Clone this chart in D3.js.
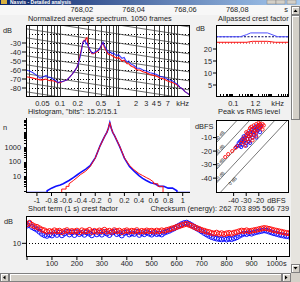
<!DOCTYPE html>
<html>
<meta charset='utf-8'>
<head>
<title>Detailed analysis</title>
<script src='https://d3js.org/d3.v7.min.js'></script>
<style>
body { margin: 0; overflow: hidden; background: #f1f1f1; }
text { font-family: 'Liberation Sans', Arial, sans-serif; font-size: 7.4px; fill: #1e1e1e; }
</style>
</head>
<body>
<div id='chart'></div>
<script>
// ---- data ----
var timeTicks = [768.02, 768.04, 768.06, 768.08];

var specFreq = [0.0262, 0.03, 0.0345, 0.04, 0.0455, 0.05, 0.0577, 0.062, 0.0675, 0.0759, 0.085, 0.0924, 0.1, 0.108, 0.12, 0.132, 0.146, 0.16, 0.178, 0.195,
  0.208, 0.22, 0.235, 0.247, 0.257, 0.267, 0.278, 0.289, 0.3, 0.313, 0.33, 0.352, 0.375, 0.397, 0.42, 0.446, 0.475, 0.502, 0.523, 0.543,
  0.575, 0.612, 0.66, 0.7, 0.74, 0.77, 0.82, 0.88, 0.94, 1.0, 1.07, 1.15, 1.25, 1.32, 1.4, 1.5, 1.6, 1.7, 1.85, 2.07,
  2.3, 2.62, 3.0, 3.46, 4.0, 4.5, 5.12, 6.0, 6.8, 7.5, 8.3, 9.2, 10.2, 11.2, 12.4, 13.7, 15.2, 16.7];
var specBlue = [-60, -61, -63, -66, -69, -68, -66, -68, -68, -70, -72, -74, -73, -73, -72, -71, -68, -65, -61, -57,
  -52, -46, -37, -29, -28, -27, -31, -30, -33, -35, -38, -41, -41, -40, -39, -38, -36, -33, -31, -29,
  -33, -36, -40, -41, -40, -42, -41, -43, -44, -43, -45, -47, -46, -49, -51, -50, -53, -54, -55, -58,
  -58, -60, -61, -63, -64, -65, -67, -68, -70, -71, -72, -74, -76, -79, -81, -84, -86, -88];
var specRed = [-67.5, -68, -69, -70, -71, -71, -70, -71, -72, -72, -73, -74, -74, -73, -72, -71, -68, -65, -61, -57,
  -51, -44, -35, -29, -27, -28, -25, -24, -32, -36, -39, -42, -42, -41, -40, -39, -37, -34, -31, -30,
  -35, -38, -42, -43, -43, -44, -45, -46, -47, -46, -48, -50, -49, -51, -53, -53, -55, -56, -57, -60,
  -60, -62, -63, -65, -66, -67, -69, -70, -72, -73, -74, -75, -77, -79, -81, -84, -86, -88];
var specTicks = [0.05, 0.1, 0.2, 0.5, 1, 2, 3, 4, 5, 7];
var specDbTicks = [-30, -40, -50, -60, -70, -80];

var crestFreqBlue = [0.0127, 0.23, 0.5, 0.8, 6, 20, 78];
var crestBlue = [25.1, 25.1, 26, 26.7, 26.7, 25.1, 25.1];
var crestFreqRed = [0.0127, 0.5, 1, 6, 15, 78];
var crestRed = [22.8, 22.8, 23.2, 23.2, 22.8, 22.8];
var crestTotalBlue = 25.1, crestTotalRed = 22.5;
var crestTicks = [5, 10, 15, 20];
var crestFreqTicks = [0.1, 1, 2];

var histXBlue = [-1.15, -0.86, -0.86, -0.8, -0.74, -0.68, -0.64, -0.56, -0.5, -0.45, -0.4, -0.33, -0.27, -0.2, -0.17, -0.134, -0.1, -0.066, -0.04, -0.02,
  0, 0.02, 0.04, 0.066, 0.1, 0.134, 0.17, 0.2, 0.27, 0.33, 0.4, 0.45, 0.5, 0.56, 0.62, 0.68, 0.74, 0.8, 0.86, 0.92, 0.92, 1.1];
var histBlue = [0, 0, 1, 1.5, 2, 2.5, 3, 5, 8, 12, 18, 30, 52, 180, 420, 1200, 2700, 6000, 10000, 19000,
  46000, 19000, 10000, 5800, 2500, 1100, 400, 170, 45, 23, 11, 7, 5, 3.5, 3, 2, 2, 1.5, 1.5, 1, 0, 0];
var histXRed = [-1.15, -0.66, -0.66, -0.6, -0.6, -0.56, -0.56, -0.5, -0.45, -0.4, -0.33, -0.27, -0.2, -0.17, -0.134, -0.1, -0.066, -0.04, -0.02,
  0, 0.02, 0.04, 0.066, 0.1, 0.134, 0.17, 0.2, 0.27, 0.33, 0.4, 0.45, 0.5, 0.55, 0.6, 0.6, 0.66, 0.66, 0.73, 0.73, 1.1];
var histRed = [0, 0, 1.3, 1.3, 2, 2, 3, 5, 8, 13, 22, 45, 170, 420, 1150, 2600, 5900, 10000, 19000,
  47000, 19000, 10000, 5900, 2600, 1150, 420, 180, 55, 28, 15, 11, 8, 6, 4, 3, 3, 2, 2, 0, 0];
var histTicks = [-1, -0.8, -0.6, -0.4, -0.2, 0, 0.2, 0.4, 0.6, 0.8, 1];
var histCountTicks = [10, 100, 1000];

var rmsBlue = [-38, -37, -36, -35, -35, -34, -33, -33, -32, -32, -31, -31, -30, -30, -29, -29, -28, -28, -27, -27,
  -26, -26, -25, -25, -24, -24, -23, -23, -22, -22, -21, -21, -20, -19, -18, -34, -30, -27, -22, -19];
var peakBlue = [-17, -16, -14, -16, -13, -12, -15, -11, -13, -9, -12, -10, -14, -8, -11, -7, -13, -9, -6, -11,
  -8, -4, -10, -6, -3, -8, -5, -2, -7, -4, -1, -5, -3, -2, -1, -17, -16, -14, -10, -6];
var rmsRed = [-34, -33, -32, -31, -30, -30, -29, -29, -28, -28, -27, -27, -26, -26, -25, -25, -24, -24, -23, -23,
  -22, -22, -21, -21, -20, -20, -19, -19, -18, -17, -17, -16, -31, -28, -25, -22, -46.7, -44.3, -41.1, -38.7, -37];
var peakRed = [-14, -12, -10, -13, -9, -6, -11, -7, -5, -9, -3, -8, -6, -2, -10, -4, -7, -1, -5, -3,
  0, -6, -2, -4, -1, 1, -3, 0, -2, 0, -4, -1, -16, -13, -12, -9, -24.4, -22.2, -20, -17.7, -16.3];
var levelTicksY = [-10, -20, -30, -40];
var levelTicksX = [-40, -30, -20];
var crestLines = [40, 30, 20, 10, 0];

var stTime = d3.range(0, 1051, 10);
var stRed = [24, 25, 23.5, 22.5, 22, 21, 20, 19.5, 18.5, 19, 18.5, 19.5, 18.8, 19.2, 18.2, 19, 19.6, 18.4, 19, 18.6,
  19.3, 18.1, 19.5, 18.7, 18.9, 19.8, 18.3, 19.1, 18.5, 19.4, 18.8, 19.9, 18.6, 19.2, 18.4, 19.6, 18.9, 19.3, 18.2, 19,
  19.5, 18.6, 19.2, 18.8, 19.6, 18.4, 19.1, 18.7, 19.4, 18.9, 19.2, 18.6, 19.3, 18.8, 19.5, 19.1, 19.8, 20.2, 20.8, 21.3,
  22, 22.6, 23.2, 23.8, 24.2, 23.5, 22.8, 22, 21.2, 20.5, 19.8, 19.2, 18.6, 18.2, 17.6, 17.2, 17.8, 17, 17.4, 16.8,
  17.3, 17.6, 17.1, 17.8, 18.2, 18.8, 19.3, 19, 19.5, 18.9, 19.2, 19.6, 19.9, 20.4, 20.8, 21.2, 21, 20.6, 20.1, 19.6,
  19.2, 18.8, 18.4, 18, 17.6, 17.4];
var stBlue = [23, 24.5, 22, 21, 20, 18.5, 17, 16, 15.5, 16.5, 15.8, 17.5, 16.2, 17.8, 15.9, 17.2, 18.4, 16.5, 17.9, 16.1,
  18.2, 16.8, 17.6, 16.3, 18, 17.1, 15.9, 18.5, 16.6, 17.7, 16.4, 18.3, 17.2, 16.1, 17.9, 18.6, 16.8, 17.4, 15.8, 17.6,
  18.1, 16.5, 17.3, 16.9, 18.4, 16.2, 17.5, 16.7, 18, 17.1, 16.4, 17.6, 16.8, 17.2, 16.5, 17.8, 18.5, 19.2, 20.1, 21,
  22, 23, 24, 24.8, 25.1, 24.2, 23.2, 22.1, 21, 20, 18.8, 17.6, 16.5, 15.5, 14.6, 14, 13.5, 13.2, 12.9, 13.4,
  12.8, 13.3, 13.1, 13.7, 14.4, 15.5, 16.4, 17.2, 16.8, 17.5, 17.1, 17.8, 18.3, 18.7, 19.1, 19.5, 19.2, 18.6, 18, 17.4,
  16.9, 16.4, 16, 15.6, 15.3, 15];
var stTicks = d3.range(0, 1001, 100);

var BLUE = '#1010ff', RED = '#ff1010';

var svg = d3.select('#chart').append('svg')
    .attr('width', 300)
    .attr('height', 282);

svg.append('rect').attr('width', 300).attr('height', 282).attr('fill', '#f1f1f1');

var defs = svg.append('defs');
var grad = defs.append('linearGradient').attr('id', 'cap');
grad.append('stop').attr('offset', '0%').attr('stop-color', '#0a246a');
grad.append('stop').attr('offset', '100%').attr('stop-color', '#a6caf0');

function clip(id, x0, y0, x1, y1) {
    defs.append('clipPath').attr('id', id).append('rect')
        .attr('x', x0).attr('y', y0).attr('width', x1 - x0).attr('height', y1 - y0);
    return 'url(#' + id + ')';
}

function frame(x0, y0, x1, y1) {
    svg.append('rect').attr('x', x0 + 0.5).attr('y', y0 + 0.5)
        .attr('width', x1 - x0 - 1).attr('height', y1 - y0 - 1)
        .attr('fill', 'none').attr('stroke', '#000').attr('stroke-width', 1);
}

function plotBg(x0, y0, x1, y1) {
    svg.append('rect').attr('x', x0).attr('y', y0).attr('width', x1 - x0).attr('height', y1 - y0).attr('fill', '#fff');
}

function label(x, y, txt, anchor) {
    return svg.append('text').attr('x', x).attr('y', y).attr('text-anchor', anchor || 'start').text(txt);
}

// ---- caption bar and scrolled-away time axis ----
svg.append('rect').attr('width', 300).attr('height', 5).attr('fill', 'url(#cap)');
svg.append('rect').attr('x', 1).attr('y', 0).attr('width', 6).attr('height', 4).attr('fill', '#d8b040');
svg.append('text').attr('x', 10).attr('y', 4.3)
    .style('fill', '#fff').style('font-weight', 'bold').style('font-size', '5px')
    .text('Nasvis - Detailed analysis');
[267, 276, 287].forEach(function(x) {
    svg.append('rect').attr('x', x).attr('y', 0).attr('width', 9).attr('height', 4)
        .attr('fill', '#d4d0c8').attr('stroke', '#808080').attr('stroke-width', 0.5);
});
svg.append('rect').attr('x', 0).attr('y', 5).attr('width', 291).attr('height', 10).attr('fill', '#f7f7f7');

var tx0 = d3.scaleLinear().domain([768.0, 768.1]).range([30, 289]);
timeTicks.forEach(function(t) {
    label(tx0(t), 12, d3.format('.2f')(t).replace('.', ','), 'middle');
});
label(286, 12, 's', 'middle');

// ---- spectrum ----
var S = {x0: 26, y0: 25, x1: 190, y1: 97};
var sx = d3.scaleLog().domain([0.0262, 16.7]).range([S.x0, S.x1]);
var sy = d3.scaleLinear().domain([-90, -10]).range([S.y1, S.y0]);
plotBg(S.x0, S.y0, S.x1, S.y1);
var sg = svg.append('g').attr('clip-path', clip('cs', S.x0, S.y0, S.x1, S.y1));

var gridF = [];
[0.01, 0.1, 1, 10].forEach(function(d) { d3.range(1, 10).forEach(function(m) { gridF.push(d * m); }); });
gridF = gridF.filter(function(f) { return f > 0.0262 && f < 16.7; });
sg.selectAll('.vg').data(gridF).enter().append('line')
    .attr('x1', function(d) { return Math.round(sx(d)) + 0.5; })
    .attr('x2', function(d) { return Math.round(sx(d)) + 0.5; })
    .attr('y1', S.y0).attr('y2', S.y1)
    .attr('stroke', '#3a3a3a').attr('stroke-width', 1);
sg.selectAll('.hg').data(d3.range(-80, -10, 10)).enter().append('line')
    .attr('x1', S.x0).attr('x2', S.x1)
    .attr('y1', function(d) { return Math.round(sy(d)) + 0.5; })
    .attr('y2', function(d) { return Math.round(sy(d)) + 0.5; })
    .attr('stroke', '#000').attr('stroke-dasharray', '1,2');
// -3 dB/octave reference lines
sg.selectAll('.dg').data(d3.range(-140, 10, 10)).enter().append('line')
    .attr('x1', sx(0.0262)).attr('x2', sx(16.7))
    .attr('y1', function(c) { return sy(c - 10 * Math.log10(0.0262)); })
    .attr('y2', function(c) { return sy(c - 10 * Math.log10(16.7)); })
    .attr('stroke', '#444').attr('stroke-width', 0.8);

var sline = d3.line().x(function(d) { return sx(d[0]); }).y(function(d) { return sy(d[1]); });
sg.append('path').attr('d', sline(d3.zip(specFreq, specRed)))
    .attr('fill', 'none').attr('stroke', RED).attr('stroke-width', 1.1);
sg.append('path').attr('d', sline(d3.zip(specFreq, specBlue)))
    .attr('fill', 'none').attr('stroke', BLUE).attr('stroke-width', 1.1).attr('opacity', 0.8);
frame(S.x0, S.y0, S.x1, S.y1);
label(3, 33, 'dB');
specDbTicks.forEach(function(v) {
    label(21, sy(v) + 2.6, v, 'end');
    svg.append('line').attr('x1', 22).attr('x2', S.x0).attr('y1', sy(v)).attr('y2', sy(v)).attr('stroke', '#000');
});
specTicks.forEach(function(f) { label(sx(f), 106, f, 'middle'); });
label(sx(12.5), 106, 'kHz', 'middle');
label(28, 21, 'Normalized average spectrum. 1050 frames');

// ---- allpassed crest factor ----
var C = {x0: 216, y0: 25, x1: 289, y1: 97};
var cx = d3.scaleLog().domain([0.0127, 78]).range([C.x0, C.x1]);
var cy = d3.scaleLinear().domain([0, 30]).range([C.y1, C.y0]);
plotBg(C.x0, C.y0, C.x1, C.y1);
var cg = svg.append('g').attr('clip-path', clip('cc', C.x0, C.y0, C.x1, C.y1));
cg.append('line').attr('x1', C.x0).attr('x2', C.x1).attr('y1', cy(crestTotalBlue)).attr('y2', cy(crestTotalBlue))
    .attr('stroke', '#000060').attr('stroke-dasharray', '2,1.5');
cg.append('line').attr('x1', C.x0).attr('x2', C.x1).attr('y1', cy(crestTotalRed)).attr('y2', cy(crestTotalRed))
    .attr('stroke', '#c00000').attr('stroke-dasharray', '1,2');
var cline = d3.line().x(function(d) { return cx(d[0]); }).y(function(d) { return cy(d[1]); });
cg.append('path').attr('d', cline(d3.zip(crestFreqRed, crestRed))).attr('fill', 'none').attr('stroke', RED);
cg.append('path').attr('d', cline(d3.zip(crestFreqBlue, crestBlue))).attr('fill', 'none').attr('stroke', '#5050ff');
var minorF = [];
[0.01, 0.1, 1, 10].forEach(function(d) { d3.range(2, 10).forEach(function(m) { minorF.push(d * m); }); });
minorF = minorF.filter(function(f) { return f > 0.0127 && f < 78; });
cg.selectAll('.mt').data(minorF).enter().append('line')
    .attr('x1', function(d) { return Math.round(cx(d)) + 0.5; })
    .attr('x2', function(d) { return Math.round(cx(d)) + 0.5; })
    .attr('y1', C.y1 - 3).attr('y2', C.y1).attr('stroke', '#000');
frame(C.x0, C.y0, C.x1, C.y1);
label(196, 31, 'dB');
crestTicks.forEach(function(v) {
    label(212, cy(v) + 2.6, v, 'end');
    svg.append('line').attr('x1', 213).attr('x2', C.x0).attr('y1', cy(v)).attr('y2', cy(v)).attr('stroke', '#000');
});
crestFreqTicks.forEach(function(f) { label(cx(f), 106, f, 'middle'); });
label(cx(20), 106, 'kHz', 'middle');
label(218, 21, 'Allpassed crest factor');

// ---- histogram ----
var Hh = {x0: 26, y0: 120, x1: 190, y1: 193};
var hx = d3.scaleLinear().domain([-1.15, 1.1]).range([Hh.x0, Hh.x1]);
var hy = d3.scaleLog().domain([0.7, 70000]).range([Hh.y1, Hh.y0]).clamp(true);
plotBg(Hh.x0, Hh.y0 - 2, Hh.x1, Hh.y1);
var hg = svg.append('g').attr('clip-path', clip('ch', Hh.x0, Hh.y0 - 2, Hh.x1, Hh.y1));
var hline = d3.line()
    .x(function(d) { return hx(d[0]); })
    .y(function(d) { return d[1] > 0 ? hy(d[1]) : Hh.y1 - 0.5; });
hg.append('path').attr('d', hline(d3.zip(histXBlue, histBlue)))
    .attr('fill', 'none').attr('stroke', BLUE).attr('stroke-width', 1.6);
hg.append('path').attr('d', hline(d3.zip(histXRed, histRed)))
    .attr('fill', 'none').attr('stroke', RED).attr('stroke-width', 1);
svg.append('line').attr('x1', Hh.x0 + 0.5).attr('x2', Hh.x0 + 0.5).attr('y1', Hh.y0 - 2).attr('y2', Hh.y1).attr('stroke', '#000');
svg.append('line').attr('x1', Hh.x0).attr('x2', Hh.x1).attr('y1', Hh.y1 - 0.5).attr('y2', Hh.y1 - 0.5).attr('stroke', '#000');
var hMinor = [];
[1, 10, 100, 1000, 10000].forEach(function(d) { d3.range(1, 10).forEach(function(m) { hMinor.push(d * m); }); });
svg.selectAll('.hm').data(hMinor).enter().append('line')
    .attr('x1', Hh.x0 - 2).attr('x2', Hh.x0)
    .attr('y1', function(d) { return Math.round(hy(d)) + 0.5; })
    .attr('y2', function(d) { return Math.round(hy(d)) + 0.5; })
    .attr('stroke', '#000');
histCountTicks.forEach(function(v) {
    label(21, hy(v) + 2.6, v, 'end');
});
histTicks.forEach(function(v) {
    label(hx(v), 203, v, 'middle');
    svg.append('line').attr('x1', hx(v)).attr('x2', hx(v)).attr('y1', Hh.y1).attr('y2', Hh.y1 + 3).attr('stroke', '#000');
});
label(3, 130, 'n');
label(28, 114, 'Histogram, "bits": 15.2/15.1');

// ---- peak vs rms ----
var P = {x0: 216, y0: 120, x1: 289, y1: 193};
var px = d3.scaleLinear().domain([-54, 4]).range([P.x0, P.x1]);
var py = d3.scaleLinear().domain([-51, 3]).range([P.y1, P.y0]);
plotBg(P.x0, P.y0, P.x1, P.y1);
var pg = svg.append('g').attr('clip-path', clip('cp', P.x0, P.y0, P.x1, P.y1));
pg.selectAll('.cl').data(crestLines).enter().append('line')
    .attr('x1', px(-60)).attr('x2', px(10))
    .attr('y1', function(c) { return py(-60 + c); })
    .attr('y2', function(c) { return py(10 + c); })
    .attr('stroke', '#555').attr('stroke-width', 0.8);
pg.selectAll('.cll').data(crestLines).enter().append('text')
    .attr('transform', function(c) {
        var r = c === 0 ? -44 : -53.5;
        return 'translate(' + (px(r) + (c === 0 ? 2 : 0)) + ',' + (py(r + c) - (c === 0 ? -2 : 1)) + ') rotate(-46)';
    })
    .style('font-size', '4.6px')
    .text(function(c) { return c + ' dB'; });
pg.selectAll('.pb').data(d3.zip(rmsBlue, peakBlue)).enter().append('circle')
    .attr('cx', function(d) { return px(d[0]); }).attr('cy', function(d) { return py(d[1]); })
    .attr('r', 1.6).attr('fill', 'none').attr('stroke', BLUE).attr('stroke-width', 0.9);
pg.selectAll('.pr').data(d3.zip(rmsRed, peakRed)).enter().append('circle')
    .attr('cx', function(d) { return px(d[0]); }).attr('cy', function(d) { return py(d[1]); })
    .attr('r', 1.6).attr('fill', 'none').attr('stroke', RED).attr('stroke-width', 0.9);
frame(P.x0, P.y0, P.x1, P.y1);
label(195, 129, 'dBFS');
levelTicksY.forEach(function(v) {
    label(212, py(v) + 2.6, v, 'end');
    svg.append('line').attr('x1', 213).attr('x2', P.x0).attr('y1', py(v)).attr('y2', py(v)).attr('stroke', '#000');
});
levelTicksX.forEach(function(v) {
    label(px(v), 203, v, 'middle');
    svg.append('line').attr('x1', px(v)).attr('x2', px(v)).attr('y1', P.y1).attr('y2', P.y1 + 3).attr('stroke', '#000');
});
label(px(-6), 203, 'dBFS', 'middle');
label(218, 114, 'Peak vs RMS level');

// ---- short term crest factor ----
var T = {x0: 26, y0: 216, x1: 290, y1: 257};
var tx = d3.scaleLinear().domain([0, 1050]).range([T.x0 + 1, T.x1 - 1]);
var ty = d3.scaleLinear().domain([0, 30]).range([T.y1, T.y0]);
plotBg(T.x0, T.y0, T.x1, T.y1);
var tg = svg.append('g').attr('clip-path', clip('ct', T.x0, T.y0, T.x1, T.y1));
tg.append('line').attr('x1', T.x0).attr('x2', T.x1).attr('y1', Math.round(ty(10)) + 0.5).attr('y2', Math.round(ty(10)) + 0.5)
    .attr('stroke', '#000').attr('stroke-dasharray', '1,2');
tg.selectAll('.sb').data(d3.zip(stTime, stBlue)).enter().append('circle')
    .attr('cx', function(d) { return tx(d[0]); }).attr('cy', function(d) { return ty(d[1]); })
    .attr('r', 2.5).attr('fill', 'none').attr('stroke', BLUE).attr('stroke-width', 1);
tg.selectAll('.sr').data(d3.zip(stTime, stRed)).enter().append('circle')
    .attr('cx', function(d) { return tx(d[0]); }).attr('cy', function(d) { return ty(d[1]); })
    .attr('r', 2.5).attr('fill', 'none').attr('stroke', RED).attr('stroke-width', 1);
frame(T.x0, T.y0, T.x1, T.y1);
label(4, 224, 'dB');
label(21, ty(10) + 2.6, '10', 'end');
svg.append('line').attr('x1', 22).attr('x2', T.x0).attr('y1', ty(10)).attr('y2', ty(10)).attr('stroke', '#000');
stTicks.forEach(function(t) {
    svg.append('line').attr('x1', tx(t)).attr('x2', tx(t)).attr('y1', T.y1).attr('y2', T.y1 + 3).attr('stroke', '#000');
    if (t > 0) label(tx(t), 266, t === 1000 ? '1000s' : t, 'middle');
});
label(28, 211, 'Short term (1 s) crest factor');
label(289, 211, 'Checksum (energy): 262 703 895 566 739', 'end');

// ---- scroll bars ----
svg.append('rect').attr('x', 291).attr('y', 5).attr('width', 9).attr('height', 268).attr('fill', '#e6e4df');
function button(x, y, w, h) {
    svg.append('rect').attr('x', x + 0.5).attr('y', y + 0.5).attr('width', w - 1).attr('height', h - 1)
        .attr('fill', '#d4d0c8').attr('stroke', '#808080');
    svg.append('line').attr('x1', x + 1).attr('x2', x + w - 1).attr('y1', y + 1.5).attr('y2', y + 1.5).attr('stroke', '#fff');
    svg.append('line').attr('x1', x + 1.5).attr('x2', x + 1.5).attr('y1', y + 1).attr('y2', y + h - 1).attr('stroke', '#fff');
}
button(291, 6, 9, 9);
svg.append('path').attr('d', 'M293.5,12 L295.5,9.5 L297.5,12 Z').attr('fill', '#000');
button(291, 15, 9, 105);
button(291, 264, 9, 9);
svg.append('path').attr('d', 'M293.5,267 L295.5,269.5 L297.5,267 Z').attr('fill', '#000');
svg.append('rect').attr('x', 0).attr('y', 273).attr('width', 300).attr('height', 9).attr('fill', '#e6e4df');
button(0, 273, 9, 9);
svg.append('path').attr('d', 'M5.5,275.5 L3,277.5 L5.5,279.5 Z').attr('fill', '#000');
button(9, 273, 273, 9);
button(282, 273, 9, 9);
svg.append('path').attr('d', 'M285,275.5 L287.5,277.5 L285,279.5 Z').attr('fill', '#000');
svg.append('rect').attr('x', 291).attr('y', 273).attr('width', 9).attr('height', 9).attr('fill', '#d4d0c8');
</script>
</body>
</html>
